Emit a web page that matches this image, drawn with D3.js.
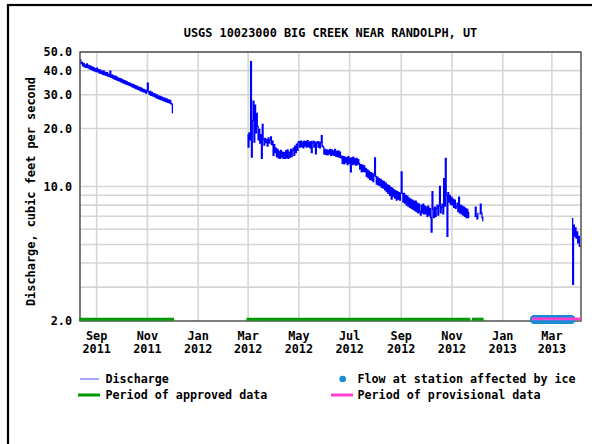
<!DOCTYPE html>
<html><head><meta charset="utf-8">
<script src="https://cdn.jsdelivr.net/npm/d3@7"></script>
<style>
html,body{margin:0;padding:0;background:#fff;}
svg{display:block;}
text{font-family:"DejaVu Sans Mono",monospace;font-weight:bold;fill:#000;}
</style>
</head><body>
<svg id="chart" width="592" height="444"></svg>
<script>
// ---------- data ----------
const chartTitle = "USGS 10023000 BIG CREEK NEAR RANDOLPH, UT";
const yAxisTitle = "Discharge, cubic feet per second";
const xDomain = ["2011-08-12", "2013-04-05"];
const yDomain = [2, 50];
const xTickDates = ["2011-09-01","2011-11-01","2012-01-01","2012-03-01","2012-05-01","2012-07-01","2012-09-01","2012-11-01","2013-01-01","2013-03-01"];
const xTickMonths = ["Sep","Nov","Jan","Mar","May","Jul","Sep","Nov","Jan","Mar"];
const xTickYears = ["2011","2011","2012","2012","2012","2012","2012","2012","2013","2013"];
const yTickValues = [2, 10, 20, 30, 40, 50];
const yGridValues = [3, 4, 5, 6, 7, 8, 9, 10, 20, 30, 40, 50];

// daily discharge (cfs), one value per day from each segment's start date
const segmentStarts = ["2011-08-12", "2012-02-29", "2013-03-25"];
const dischargeSegA = [
 45.5, 43.5, 44.2, 42.4, 43.6, 41.8, 42.9, 41.6, 43.4, 41.5,
 42.6, 40.9, 42.3, 40.6, 41.8, 40.2, 41.5, 39.9, 41.0, 39.6,
 41.2, 39.4, 40.5, 38.9, 40.2, 38.7, 39.8, 38.3, 39.9, 38.0,
 39.2, 37.8, 39.0, 37.5, 38.4, 37.2, 39.8, 36.9, 38.0, 36.6,
 37.6, 36.2, 37.5, 35.9, 37.0, 35.6, 36.6, 35.3, 36.4, 35.0,
 36.0, 34.7, 35.6, 34.4, 35.4, 34.1, 35.0, 33.8, 34.7, 33.5,
 34.3, 33.2, 34.0, 32.9, 33.8, 32.6, 33.4, 32.3, 33.2, 32.0,
 32.8, 31.7, 32.6, 31.4, 32.3, 31.1, 32.0, 30.9, 31.7, 30.6,
 31.5, 34.4, 31.0, 30.1, 31.2, 29.8, 30.8, 29.6, 30.4, 29.3,
 30.2, 29.0, 29.9, 28.7, 29.6, 28.5, 29.4, 28.3, 29.1, 28.0,
 28.9, 27.8, 28.7, 27.6, 28.4, 27.4, 28.2, 27.2, 28.0, 27.0,
 26.8, 24.0
];
const dischargeSegB = [
 18.5, 16.0, 19.0, 17.5,
 44.5,
 14.2, 22.0, 27.8, 17.0, 26.5, 19.0, 24.0,
 20.5, 17.5, 19.8, 16.8, 18.6, 14.0, 21.0,
 17.6, 16.4, 17.8, 16.9, 17.5, 16.2, 17.9, 16.8, 17.4, 18.1, 16.5, 17.2, 14.5,
 16.5, 15.0, 15.8, 14.3, 15.6, 14.1, 15.2, 14.0, 15.4, 14.2, 15.1, 14.0,
 15.0, 14.0, 15.3, 14.1, 15.5, 14.0, 15.1, 14.2, 15.6, 14.3, 15.4,
 15.8, 14.5, 16.2, 15.0, 16.6, 15.4, 17.0,
 17.1, 16.0, 17.2, 16.1, 17.0, 15.9, 17.2, 16.2, 17.1, 16.0,
 17.3, 16.1, 17.0, 15.9, 17.1, 15.0, 16.9, 17.2, 16.0, 17.0,
 14.8, 16.8, 17.1, 16.0, 17.0, 15.9, 16.9, 18.4, 16.2,
 16.0, 14.8, 15.6, 14.7, 15.5, 14.6, 15.4, 14.8, 15.6, 14.5, 15.5,
 14.6, 15.3, 14.5, 15.6, 14.4, 15.2, 14.3, 15.3, 14.2, 15.1, 14.1,
 14.4, 13.2, 14.3, 13.1, 14.2, 13.3, 14.1, 13.0, 14.3, 13.2, 14.0,
 11.9, 14.1, 13.0, 14.2, 13.1, 13.9, 12.9, 14.0, 13.0, 13.8,
 13.2, 12.3, 13.0, 11.9, 12.9, 12.0, 12.8, 11.9,
 12.4, 11.3, 12.2, 11.1, 12.0, 10.9, 11.8, 10.8, 11.7, 10.6, 11.5,
 14.1, 11.3, 10.3, 11.2, 10.2, 11.0, 10.1, 10.9, 9.9, 10.7, 9.8,
 10.6, 9.6, 10.4, 9.4, 10.2, 9.2, 10.1, 9.0, 9.9, 8.6, 9.8,
 8.9, 9.6, 8.7, 9.5, 8.5, 9.4, 8.6, 9.3, 8.5, 9.2,
 11.9,
 9.2, 8.3, 9.2, 8.2, 9.0, 8.0, 8.9, 7.9, 8.7, 7.8, 8.6, 7.7, 8.5, 7.6,
 8.4, 7.5, 8.4, 7.4, 8.2, 7.3, 8.1, 7.4, 7.1, 8.0, 7.3, 8.1, 7.2, 7.9, 7.2,
 7.8, 7.0, 7.9, 7.1, 7.7, 6.9, 5.8, 9.4, 7.6, 6.9, 7.8, 7.0, 7.7, 8.0, 7.1, 7.9, 10.0, 7.3,
 7.8, 8.1, 7.2, 11.0, 7.9, 14.0, 9.0, 5.5,
 9.3, 8.3, 9.0, 8.1, 8.8, 8.0, 8.6, 7.8, 8.5, 7.7,
 7.9, 8.2, 7.4, 8.8, 7.3, 8.0, 7.2, 7.9, 7.1,
 7.8, 7.0, 7.7, 6.9, 7.6, 6.9, 7.4,
 null, null, null, null, null, null,
 7.0, 7.8, 7.0, 6.8, 7.3,
 null,
 7.2, 8.1, 7.3, 6.9, 6.6
];
const dischargeSegC = [6.8, 3.1, 6.3, 5.5, 6.1, 5.4, 5.8, 5.1, 5.5, 4.9, 4.85];

// qualification periods
const approvedStarts = ["2011-08-11", "2012-02-28", "2012-11-25"];
const approvedEnds   = ["2011-12-03", "2012-11-23", "2012-12-09"];
const provisionalStarts = ["2013-02-05"];
const provisionalEnds   = ["2013-04-05"];
const iceStart = "2013-02-08";
const iceEnd   = "2013-03-24";

const legendLabels = ["Discharge", "Flow at station affected by ice", "Period of approved data", "Period of provisional data"];

// ---------- colours ----------
const C = {
  line: "#0000ff", legendLine: "#6b6bff", approved: "#009a00", provisional: "#ff3fd0",
  ice: "#1b8cd6", grid: "#d5d5d5", frame: "#474747"
};

// ---------- layout ----------
const M = { left: 80, right: 581, top: 52, bottom: 321 };
const parse = d3.utcParse("%Y-%m-%d");
const svg = d3.select("#chart");

// outer border
svg.append("rect").attr("x", 8).attr("y", 5).attr("width", 620).attr("height", 480)
  .attr("fill", "none").attr("stroke", "#000").attr("stroke-width", 2.2);

const x = d3.scaleUtc().domain(xDomain.map(parse)).range([M.left, M.right]);
const y = d3.scaleLog().domain(yDomain).range([M.bottom, M.top]);

// grid
const g = svg.append("g");
g.selectAll("line.hg").data(yGridValues).join("line")
  .attr("x1", M.left).attr("x2", M.right)
  .attr("y1", d => y(d)).attr("y2", d => y(d))
  .attr("stroke", C.grid).attr("stroke-width", 1.6);
g.selectAll("line.vg").data(xTickDates.map(parse)).join("line")
  .attr("x1", d => x(d)).attr("x2", d => x(d))
  .attr("y1", M.top).attr("y2", M.bottom)
  .attr("stroke", C.grid).attr("stroke-width", 1.6);

// data
function buildSeries(start, values) {
  const s = parse(start);
  return values.map((v, i) => ({ date: d3.utcDay.offset(s, i), v }));
}
const series = [
  buildSeries(segmentStarts[0], dischargeSegA),
  buildSeries(segmentStarts[1], dischargeSegB),
  buildSeries(segmentStarts[2], dischargeSegC)
];
const line = d3.line()
  .defined(d => d.v != null)
  .x(d => x(d.date)).y(d => y(d.v))
  .curve(d3.curveStepAfter);
svg.append("g").selectAll("path").data(series).join("path")
  .attr("d", line).attr("fill", "none")
  .attr("stroke", C.line).attr("stroke-width", 1.3);

// frame
svg.append("rect").attr("x", M.left).attr("y", M.top)
  .attr("width", M.right - M.left).attr("height", M.bottom - M.top)
  .attr("fill", "none").attr("stroke", C.frame).attr("stroke-width", 1.4);

// approved periods
const barY = M.bottom - 1.8;
svg.append("g").selectAll("line").data(approvedStarts.map((s, i) => [parse(s), parse(approvedEnds[i])])).join("line")
  .attr("x1", d => Math.max(x(d[0]), M.left - 2)).attr("x2", d => x(d[1]))
  .attr("y1", barY).attr("y2", barY)
  .attr("stroke", C.approved).attr("stroke-width", 3);

// ice-affected dots
const iceDays = d3.utcDay.range(parse(iceStart), d3.utcDay.offset(parse(iceEnd), 1));
svg.append("g").selectAll("circle").data(iceDays).join("circle")
  .attr("cx", d => x(d)).attr("cy", M.bottom - 1.5).attr("r", 4.5)
  .attr("fill", C.ice);

// provisional periods
svg.append("g").selectAll("line").data(provisionalStarts.map((s, i) => [parse(s), parse(provisionalEnds[i])])).join("line")
  .attr("x1", d => x(d[0])).attr("x2", d => Math.min(x(d[1]), M.right))
  .attr("y1", M.bottom - 2.2).attr("y2", M.bottom - 2.2)
  .attr("stroke", C.provisional).attr("stroke-width", 2.8);

// y tick labels
const fmt = d3.format(".1f");
svg.append("g").selectAll("text").data(yTickValues).join("text")
  .attr("x", 72).attr("y", d => y(d)).attr("dy", "0.36em")
  .attr("text-anchor", "end").attr("font-size", "11.8px")
  .text(d => fmt(d));

// x tick labels
const xl = svg.append("g").selectAll("g").data(xTickDates.map(parse)).join("g");
xl.append("text").attr("x", d => x(d)).attr("y", 339.5)
  .attr("text-anchor", "middle").attr("font-size", "11.8px")
  .text((d, i) => xTickMonths[i]);
xl.append("text").attr("x", d => x(d)).attr("y", 352.8)
  .attr("text-anchor", "middle").attr("font-size", "11.8px")
  .text((d, i) => xTickYears[i]);

// title
svg.append("text").attr("x", (M.left + M.right) / 2).attr("y", 36.5)
  .attr("text-anchor", "middle").attr("font-size", "11.9px").text(chartTitle);

// y axis title
svg.append("text").attr("transform", "translate(35,191.5) rotate(-90)")
  .attr("text-anchor", "middle").attr("font-size", "11.9px").text(yAxisTitle);

// legend
const lg = svg.append("g");
lg.append("line").attr("x1", 80).attr("x2", 99).attr("y1", 379).attr("y2", 379)
  .attr("stroke", C.legendLine).attr("stroke-width", 1.2);
lg.append("text").attr("x", 105.5).attr("y", 383.3).attr("font-size", "11.7px").text(legendLabels[0]);
lg.append("circle").attr("cx", 342.7).attr("cy", 379).attr("r", 3.3).attr("fill", C.ice);
lg.append("text").attr("x", 357.5).attr("y", 383.3).attr("font-size", "11.7px").text(legendLabels[1]);
lg.append("line").attr("x1", 78).attr("x2", 100).attr("y1", 395).attr("y2", 395)
  .attr("stroke", C.approved).attr("stroke-width", 3);
lg.append("text").attr("x", 105.5).attr("y", 399.3).attr("font-size", "11.7px").text(legendLabels[2]);
lg.append("line").attr("x1", 331).attr("x2", 353).attr("y1", 395).attr("y2", 395)
  .attr("stroke", C.provisional).attr("stroke-width", 3);
lg.append("text").attr("x", 357.5).attr("y", 399.3).attr("font-size", "11.7px").text(legendLabels[3]);
</script>
</body></html>
